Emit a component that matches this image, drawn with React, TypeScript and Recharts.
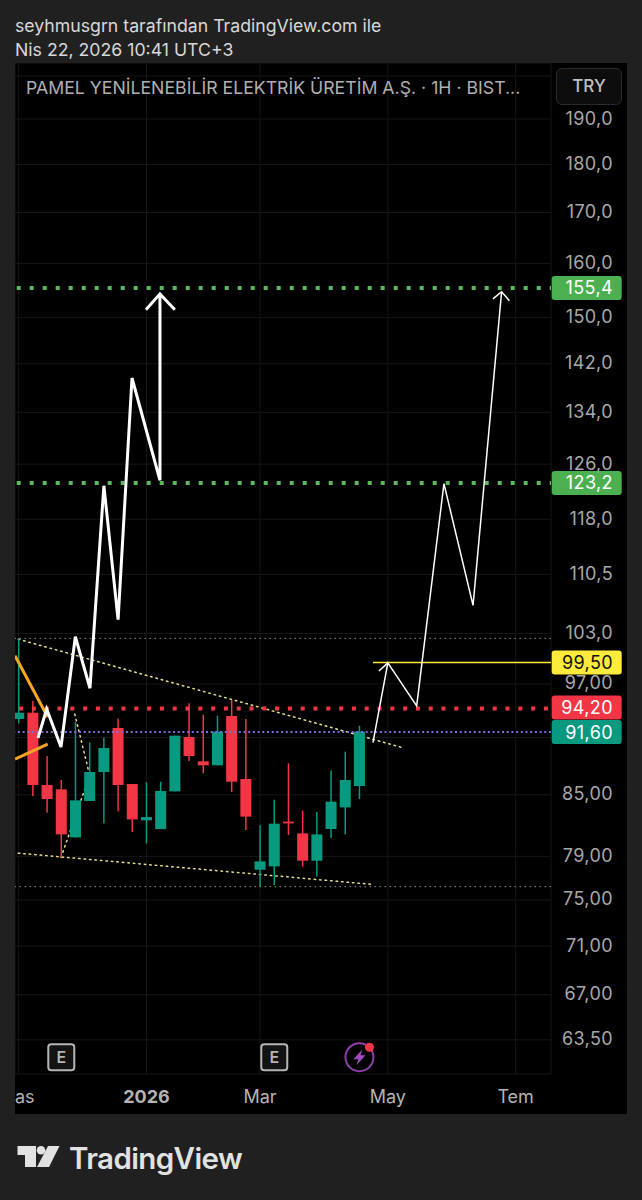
import React from 'react'
import { Bar, CartesianGrid, ComposedChart, Line, ReferenceDot, ReferenceLine, XAxis, YAxis } from 'recharts'

// weekly candles, x is the bar index
const barIndex = [0, 1, 2, 3, 4, 5, 6, 7, 8, 9, 10, 11, 12, 13, 14, 15, 16, 17, 18, 19, 20, 21, 22, 23, 24]
const opens = [93.03, 93.73, 86.0, 85.56, 80.8, 84.38, 87.34, 92.04, 86.1, 82.46, 81.61, 85.35, 91.06, 88.46, 88.04, 93.36, 86.62, 77.75, 78.06, 82.33, 81.19, 78.59, 81.61, 83.74, 85.9]
const highs = [102.4, 95.05, 89.02, 86.51, 92.73, 90.48, 90.98, 93.07, 86.1, 86.31, 86.34, 91.2, 94.78, 93.51, 93.4, 95.16, 93.03, 81.97, 84.51, 88.25, 83.41, 83.28, 87.51, 89.48, 92.29]
const lows = [92.55, 84.88, 83.21, 78.9, 80.8, 84.38, 82.16, 83.35, 81.32, 80.23, 81.61, 85.35, 88.49, 87.2, 88.04, 85.29, 81.51, 76.2, 76.35, 81.03, 78.03, 77.11, 80.74, 81.09, 84.58]
const closes = [93.73, 86.0, 84.58, 81.09, 84.44, 87.34, 89.87, 86.0, 82.55, 82.78, 85.39, 91.2, 89.02, 88.04, 91.64, 86.34, 82.82, 78.53, 82.13, 82.16, 78.59, 81.09, 84.31, 86.51, 91.64]

const priceTicks = [200, 190, 180, 170, 160, 150, 142, 134, 126, 118, 110.5, 103, 97, 91, 85, 79, 75, 71, 67, 63.5]
const priceLabels = ['', '190,0', '180,0', '170,0', '160,0', '150,0', '142,0', '134,0', '126,0', '118,0', '110,5', '103,0', '97,00', '', '85,00', '79,00', '75,00', '71,00', '67,00', '63,50']
const timeTicks = [0, 9, 17, 26, 35]
const timeLabels = ['as', '2026', 'Mar', 'May', 'Tem']

// hand drawn lines on the chart
const thickX = [1.36, 1.97, 2.98, 3.99, 5.02, 6.0, 7.0, 7.98, 9.95, 9.95]
const thickY = [90.95, 94.14, 89.98, 102.6, 96.5, 122.8, 104.7, 139.6, 123.6, 154.3]
const thickHeadX = [8.96, 9.95, 11.0]
const thickHeadY = [151.4, 154.3, 151.4]
const thinX = [24.95, 26.0, 28.03, 29.95, 32.0, 34.01]
const thinY = [90.44, 99.45, 94.5, 123.1, 106.5, 154.7]
const thinHead1X = [25.37, 26.0]
const thinHead1Y = [98.5, 99.45]
const thinHead2X = [33.4, 34.01, 34.56]
const thinHead2Y = [153.4, 154.7, 153.06]
const orange1X = [-0.26, 2.04]
const orange1Y = [100.3, 93.25]
const orange2X = [-0.26, 2.04]
const orange2Y = [88.7, 90.3]
const trendUpperX = [-0.03, 27.06]
const trendUpperY = [102.3, 89.9]
const trendLowerX = [-0.03, 24.95]
const trendLowerY = [79.3, 76.4]
const trendZigX = [2.98, 5.0, 3.9]
const trendZigY = [78.9, 87.0, 93.9]

const earningsBars = [3, 18]
const alertBar = [24]
const markerPrice = 62.2

const X_DOMAIN = [-0.26, 37.49]
const Y_DOMAIN = [60.97, 203.1]
const GREEN = '#089981'
const RED = '#F23645'
const FONT = 'Inter, sans-serif'
const BODY_WIDTH = 11

const candles = barIndex.map((x, i) => ({ x, open: opens[i], high: highs[i], low: lows[i], close: closes[i], range: [lows[i], highs[i]] }))
const toPoints = (xs: number[], ys: number[]) => xs.map((x, i) => ({ x, y: ys[i] }))

function Candle({ x, y, width, height, payload }: any) {
  const color = payload.close >= payload.open ? GREEN : RED
  const center = x + width / 2
  const at = (price: number) =>
    y + (height * (Math.log(payload.high) - Math.log(price))) / (Math.log(payload.high) - Math.log(payload.low))
  const top = at(Math.max(payload.open, payload.close))
  const bottom = at(Math.min(payload.open, payload.close))
  return (
    <g>
      <rect x={center - 0.75} y={y} width={1.5} height={height} fill={color} />
      <rect x={center - BODY_WIDTH / 2} y={top} width={BODY_WIDTH} height={Math.max(bottom - top, 1)} fill={color} />
    </g>
  )
}

function PriceTick({ y, payload }: any) {
  const label = priceLabels[priceTicks.indexOf(payload.value)]
  return (
    <text x={598} y={y + 5.5} textAnchor="end" fontFamily={FONT} fontSize={18} letterSpacing={0.4} fill="#a8a8a8">
      {label}
    </text>
  )
}

function TimeTick({ x, y, payload }: any) {
  const label = timeLabels[timeTicks.indexOf(payload.value)]
  const first = label === 'as'
  return (
    <text x={first ? 0 : x} y={y + 21} textAnchor={first ? 'start' : 'middle'} fontFamily={FONT} fontSize={18} fontWeight={label === '2026' ? 700 : 400} fill="#b4b4b4">
      {label}
    </text>
  )
}

function Badge({ viewBox, text, fill, color, shift = 0 }: any) {
  const cy = viewBox.y + shift
  return (
    <g>
      <rect x={536.7} y={cy - 12} width={70} height={24} rx={3} fill={fill} />
      <text x={598} y={cy + 6.5} textAnchor="end" fontFamily={FONT} fontSize={18} letterSpacing={0.4} fill={color}>
        {text}
      </text>
    </g>
  )
}

function EarningsMark({ cx, cy }: any) {
  return (
    <g>
      <rect x={cx - 13} y={cy - 13} width={26} height={26} rx={3} fill="#131313" stroke="#b5b5b5" strokeWidth={2} />
      <text x={cx} y={cy + 6} textAnchor="middle" fontFamily={FONT} fontSize={16} fontWeight={600} fill="#b5b5b5">
        E
      </text>
    </g>
  )
}

function AlertMark({ cx, cy }: any) {
  return (
    <g>
      <circle cx={cx} cy={cy} r={14} fill="none" stroke="#8f3fa8" strokeWidth={2} />
      <path d={`M${cx + 3},${cy - 8} L${cx - 6},${cy + 2} L${cx - 1},${cy + 2} L${cx - 3},${cy + 8} L${cx + 6},${cy - 2} L${cx + 1},${cy - 2} Z`} fill="#a04cc0" />
      <circle cx={cx + 10} cy={cy - 10} r={4.5} fill={RED} />
    </g>
  )
}

function overlay(key: string, xs: number[], ys: number[], stroke: string, width: number, dash?: string, zIndex?: number) {
  return (
    <Line
      key={key}
      data={toPoints(xs, ys)}
      dataKey="y"
      type="linear"
      stroke={stroke}
      strokeWidth={width}
      strokeDasharray={dash}
      strokeLinecap={dash ? 'round' : 'butt'}
      dot={false}
      activeDot={false}
      legendType="none"
      isAnimationActive={false}
      zIndex={zIndex}
    />
  )
}

export default function App() {
  return (
    <div style={{ position: 'absolute', left: 0, top: 0, width: 642, height: 1200, background: '#202020', overflow: 'hidden', fontFamily: FONT }}>
      <div style={{ position: 'absolute', left: 15, top: 15, fontSize: 17.7, lineHeight: '22px', color: '#d8d8d8', whiteSpace: 'nowrap' }}>
        seyhmusgrn tarafından TradingView.com ile
      </div>
      <div style={{ position: 'absolute', left: 15, top: 39, fontSize: 17.7, lineHeight: '22px', color: '#d8d8d8', whiteSpace: 'nowrap' }}>
        Nis 22, 2026 10:41 UTC+3
      </div>

      <div style={{ position: 'absolute', left: 15, top: 63, width: 612, height: 1051, background: '#000' }}>
        <ComposedChart width={612} height={1051} data={candles} margin={{ top: 0, right: 0, bottom: 0, left: 0 }}>
          <CartesianGrid stroke="#161616" strokeWidth={1} />
          <XAxis
            dataKey="x"
            type="number"
            domain={X_DOMAIN}
            ticks={timeTicks}
            interval={0}
            allowDataOverflow
            axisLine={false}
            tickLine={false}
            height={40}
            tick={<TimeTick />}
          />
          <YAxis
            orientation="right"
            type="number"
            scale="log"
            domain={Y_DOMAIN}
            ticks={priceTicks}
            interval={0}
            allowDataOverflow
            axisLine={false}
            tickLine={false}
            width={76}
            tick={<PriceTick />}
          />

          {overlay('upper', trendUpperX, trendUpperY, '#e6e08c', 1.5, '1.5 4', 250)}
          {overlay('lower', trendLowerX, trendLowerY, '#e6e08c', 1.5, '1.5 4', 250)}
          {overlay('zig', trendZigX, trendZigY, '#e6e08c', 1.5, '1.5 4', 250)}

          <Bar dataKey="range" barSize={11} shape={<Candle />} isAnimationActive={false} />

          <ReferenceLine y={102.4} stroke="#8c8c8c" strokeWidth={1} strokeDasharray="1.5 3.5" />
          <ReferenceLine y={76.2} stroke="#8c8c8c" strokeWidth={1} strokeDasharray="1.5 3.5" />
          <ReferenceLine y={155.4} stroke="#5cb85c" strokeWidth={4} strokeDasharray="4 9" strokeDashoffset={2.7} label={<Badge text="155,4" fill="#4CAF50" color="#fff" />} />
          <ReferenceLine y={123.2} stroke="#5cb85c" strokeWidth={4} strokeDasharray="4 9" strokeDashoffset={2.7} label={<Badge text="123,2" fill="#4CAF50" color="#fff" />} />
          <ReferenceLine y={94.2} stroke={RED} strokeWidth={4} strokeDasharray="4 8.8" strokeDashoffset={9.7} label={<Badge text="94,20" fill={RED} color="#fff" shift={-1} />} />
          <ReferenceLine y={91.6} stroke="#7a6fd8" strokeWidth={2} strokeDasharray="2 2.7" label={<Badge text="91,60" fill={GREEN} color="#fff" />} />
          <ReferenceLine
            segment={[{ x: 24.95, y: 99.5 }, { x: 37.49, y: 99.5 }]}
            stroke="#FFEB3B"
            strokeWidth={1.5}
            label={<Badge text="99,50" fill="#FFEB3B" color="#111" />}
          />

          {overlay('orange1', orange1X, orange1Y, '#f5a623', 3)}
          {overlay('orange2', orange2X, orange2Y, '#f5a623', 3)}
          {overlay('thick', thickX, thickY, '#ffffff', 3)}
          {overlay('thickHead', thickHeadX, thickHeadY, '#ffffff', 3)}
          {overlay('thin', thinX, thinY, '#ffffff', 1.5)}
          {overlay('thinHead1', thinHead1X, thinHead1Y, '#ffffff', 1.5)}
          {overlay('thinHead2', thinHead2X, thinHead2Y, '#ffffff', 1.5)}

          {earningsBars.map(b => (
            <ReferenceDot key={b} x={b} y={markerPrice} ifOverflow="visible" shape={<EarningsMark />} />
          ))}
          {alertBar.map(b => (
            <ReferenceDot key={b} x={b} y={markerPrice} ifOverflow="visible" shape={<AlertMark />} />
          ))}
        </ComposedChart>

        <div style={{ position: 'absolute', left: 11, top: 14, fontSize: 17.7, lineHeight: '22px', color: '#b0b0b0', whiteSpace: 'nowrap' }}>
          PAMEL YENİLENEBİLİR ELEKTRİK ÜRETİM A.Ş. · 1H · BIST...
        </div>
        <div
          style={{
            position: 'absolute',
            left: 541,
            top: 5,
            width: 66,
            height: 37,
            boxSizing: 'border-box',
            border: '1px solid #2a2a2a',
            borderRadius: 6,
            background: '#0d0d0d',
            color: '#c0c0c0',
            fontSize: 17,
            fontWeight: 500,
            lineHeight: '35px',
            textAlign: 'center',
          }}
        >
          TRY
        </div>
      </div>

      <svg style={{ position: 'absolute', left: 17, top: 1145 }} width={44} height={23}>
        <path d="M0.5,1 H19 V22 H8 V10 H0.5 Z" fill="#e2e2e2" />
        <circle cx={24} cy={5.2} r={4.3} fill="#e2e2e2" />
        <path d="M31,1 H42.5 L32,22 H20 Z" fill="#e2e2e2" />
      </svg>
      <div style={{ position: 'absolute', left: 69, top: 1138, fontSize: 29.5, lineHeight: '40px', fontWeight: 600, letterSpacing: -0.6, color: '#e2e2e2' }}>
        TradingView
      </div>
    </div>
  )
}
